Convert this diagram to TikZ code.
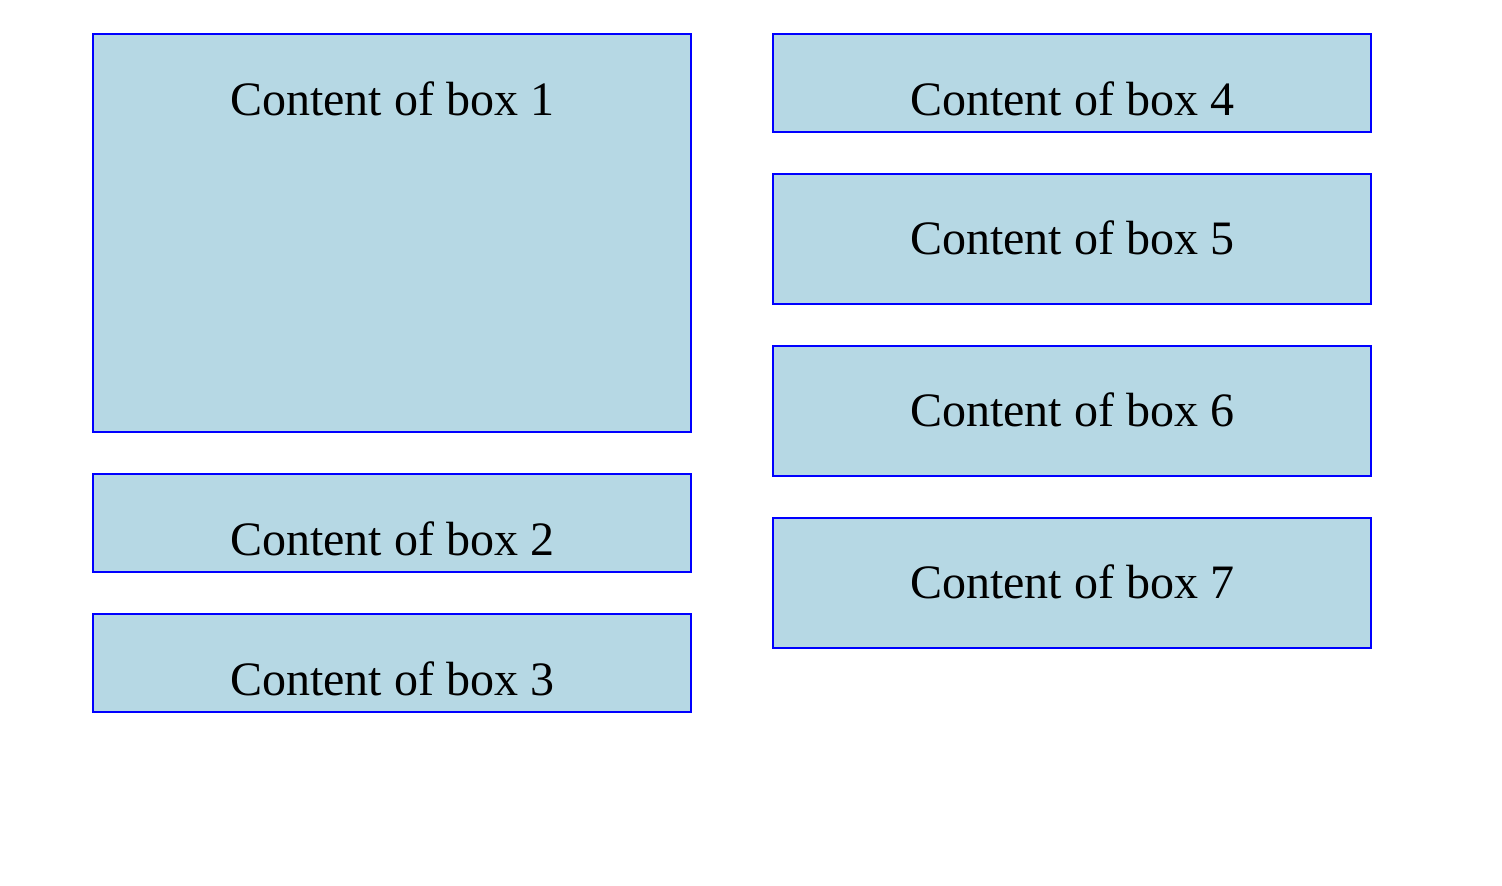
\documentclass[tikz,border=0pt]{standalone}
\usepackage{fontspec}
\setmainfont{Liberation Serif}
\definecolor{boxfill}{RGB}{182,216,228}
\definecolor{boxline}{RGB}{0,0,255}
\begin{document}
\begin{tikzpicture}[x=1pt,y=-1pt,
  panel/.style={draw=boxline,fill=boxfill,line width=2pt},
  label/.style={anchor=base,inner sep=0pt,font=\fontsize{48}{58}\selectfont}]
\useasboundingbox (0,0) rectangle (1502,886);
% left column
\draw[panel] (93,34) rectangle (691,432);
\node[label] (t1) at (392,115) {Content of box 1};
\draw[panel] (93,474) rectangle (691,572);
\node[label] (t2) at (392,555) {Content of box 2};
\draw[panel] (93,614) rectangle (691,712);
\node[label] (t3) at (392,695) {Content of box 3};
% right column
\draw[panel] (773,34) rectangle (1371,132);
\node[label] (t4) at (1072,115) {Content of box 4};
\draw[panel] (773,174) rectangle (1371,304);
\node[label] (t5) at (1072,254) {Content of box 5};
\draw[panel] (773,346) rectangle (1371,476);
\node[label] (t6) at (1072,426) {Content of box 6};
\draw[panel] (773,518) rectangle (1371,648);
\node[label] (t7) at (1072,598) {Content of box 7};
\end{tikzpicture}
\end{document}
